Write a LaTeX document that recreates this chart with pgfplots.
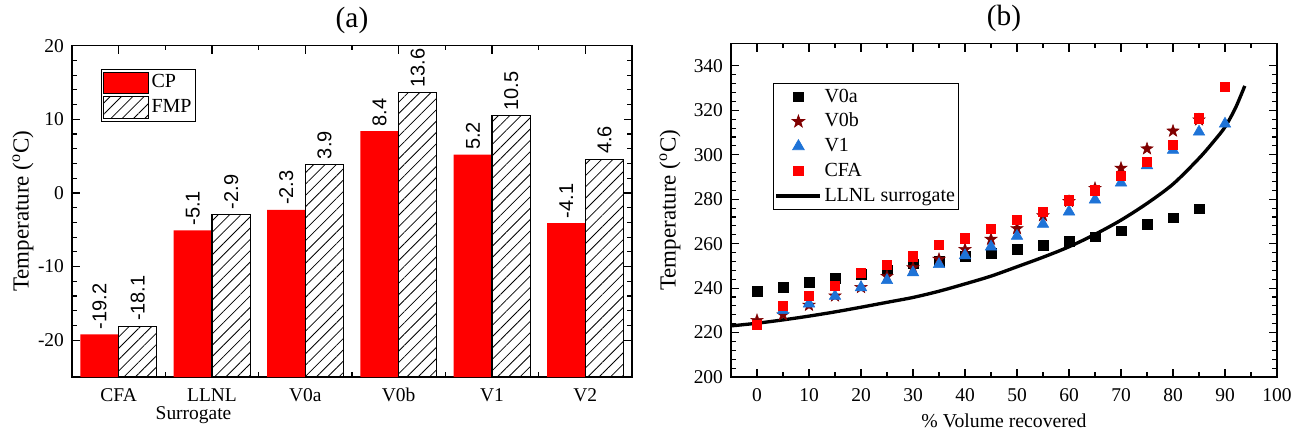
\documentclass[border=0pt]{standalone}
\usepackage{fontspec}
\setmainfont{Liberation Serif}
\newfontfamily\arial{Liberation Sans}
\usepackage{pgfplots}
\pgfplotsset{compat=1.18}
\usetikzlibrary{patterns.meta}
\definecolor{darkred}{RGB}{128,0,0}
\definecolor{myblue}{RGB}{30,115,215}
\pgfdeclareplotmark{fstar}{%
  \pgfpathmoveto{\pgfqpointpolar{90}{\pgfplotmarksize}}%
  \pgfpathlineto{\pgfqpointpolar{126}{0.4\pgfplotmarksize}}%
  \pgfpathlineto{\pgfqpointpolar{162}{\pgfplotmarksize}}%
  \pgfpathlineto{\pgfqpointpolar{198}{0.4\pgfplotmarksize}}%
  \pgfpathlineto{\pgfqpointpolar{234}{\pgfplotmarksize}}%
  \pgfpathlineto{\pgfqpointpolar{270}{0.4\pgfplotmarksize}}%
  \pgfpathlineto{\pgfqpointpolar{306}{\pgfplotmarksize}}%
  \pgfpathlineto{\pgfqpointpolar{342}{0.4\pgfplotmarksize}}%
  \pgfpathlineto{\pgfqpointpolar{18}{\pgfplotmarksize}}%
  \pgfpathlineto{\pgfqpointpolar{54}{0.4\pgfplotmarksize}}%
  \pgfpathclose
  \pgfusepathqfillstroke}
\pgfplotsset{
  common/.style={
    scale only axis,
    enlargelimits=false,
    axis line style={line width=1.1pt},
    every tick/.style={black, line width=0.9pt},
    major tick length=6pt, minor tick length=3.5pt,
    tick label style={font=\fontsize{14.6}{16}\selectfont},
    /pgf/number format/assume math mode=true,
    xticklabel style={yshift=-5pt},
    yticklabel style={xshift=-2.5pt},
    title style={font=\fontsize{22}{24}\selectfont, inner sep=0pt, yshift=2.5pt},
  },
  barlgd/.style={legend image code/.code={\draw[##1] (0pt,-8.2pt) rectangle (33.75pt,8.2pt);}},
  mklgd/.style={legend image code/.code={\draw[mark repeat=2,mark phase=2,##1] plot coordinates {(0pt,0pt) (16.5pt,0pt) (33pt,0pt)};}},
  linelgd/.style={legend image code/.code={\draw[##1] (0pt,0pt) -- (33pt,0pt);}},
  valnode/.style={every node near coord/.style={xshift=#1, rotate=90, anchor=west,
     font=\arial\fontsize{15}{17}\selectfont, inner xsep=3.5pt, inner ysep=0pt, black}},
}
\begin{document}
\begin{tikzpicture}
\begin{axis}[
  common,
  at={(0pt,0pt)}, anchor=south west,
  width=420pt, height=248.5pt,
  xmin=-0.5, xmax=5.5, ymin=-25, ymax=20,
  y coord trafo/.code={\pgfmathparse{#1+25}},
  y coord inv trafo/.code={\pgfmathparse{#1-25}},
  ytick={-20,-10,0,10,20}, yticklabels={-20,-10,0,10,20},
  minor y tick num=4,
  xtick={0,1,2,3,4,5}, xticklabels={CFA,LLNL,V0a,V0b,V1,V2},
  minor xtick={0.5,1.5,2.5,3.5,4.5},
  xtick pos=upper, xticklabel pos=lower,
  extra x ticks={0.5,1.5,2.5,3.5,4.5}, extra x tick labels={},
  extra x tick style={xtick pos=both, major tick length=3.5pt},
  title={(a)},
  ylabel={Temperature (\textsuperscript{o}C)},
  every axis y label/.style={at={(axis description cs:-0.0875,0.5)}, rotate=90, anchor=center, font=\fontsize{17.25}{20}\selectfont},
  xlabel={Surrogate},
  every axis x label/.style={at={(axis description cs:0.293,-0.127)}, anchor=base east, font=\fontsize{14.6}{16}\selectfont},
  legend style={at={(0.052,0.93)}, anchor=north west, draw=black, line width=0.6pt,
    font=\fontsize{15}{18}\selectfont, inner sep=1pt, row sep=0pt,
    nodes={inner sep=2pt, text height=11pt, text depth=3.5pt}},
  legend cell align=left,
  nodes near coords={\pgfplotspointmeta},
  point meta=explicit symbolic,
]
\addplot[ybar, bar width=0.41, bar shift=-0.205, fill=red, draw=none, barlgd, valnode=-14.35pt]
  coordinates {(0,-19.2)[-19.2] (1,-5.1)[-5.1] (2,-2.3)[-2.3] (3,8.4)[8.4] (4,5.2)[5.2] (5,-4.1)[-4.1]};
\addlegendentry{CP}
\addplot[ybar, bar width=0.41, bar shift=0.205, fill=white, draw=black, line width=0.8pt,
  postaction={pattern={Lines[angle=45,distance=6pt,line width=0.6pt]}}, barlgd, valnode=14.35pt]
  coordinates {(0,-18.1)[-18.1] (1,-2.9)[-2.9] (2,3.9)[3.9] (3,13.6)[13.6] (4,10.5)[10.5] (5,4.6)[4.6]};
\addlegendentry{FMP}
\end{axis}

\begin{axis}[
  common,
  at={(494.25pt,0pt)}, anchor=south west,
  width=409.5pt, height=250pt,
  xmin=-5, xmax=100, ymin=200, ymax=350,
  xtick={0,10,...,100}, ytick={200,220,...,340},
  minor x tick num=1, minor y tick num=4,
  title={(b)},
  xlabel={\% Volume recovered},
  ylabel={Temperature (\textsuperscript{o}C)},
  every axis y label/.style={at={(axis description cs:-0.1117,0.5)}, rotate=90, anchor=center, font=\fontsize{17.25}{20}\selectfont},
  every axis x label/.style={at={(axis description cs:0.5,-0.132)}, anchor=center, font=\fontsize{14.8}{17}\selectfont},
  legend style={at={(0.077,0.883)}, anchor=north west, draw=black, line width=0.6pt,
    font=\fontsize{15}{18}\selectfont, inner sep=1pt, row sep=0pt,
    nodes={inner sep=1.8pt, text height=11.5pt, text depth=3.5pt}},
  legend cell align=left,
]
\addplot[forget plot, black, line width=2.5pt, smooth] coordinates {
(-5,223.0) (0,224.2) (5,225.7) (10,227.4) (15,229.3) (20,231.4) (25,233.6) (30,235.8)
(35,238.6) (40,241.9) (45,245.4) (50,249.6) (55,253.9) (60,258.6) (65,264.2) (70,270.6)
(75,278.1) (80,286.8) (85,298.4) (88,306.5) (90,312.5) (92,321.0) (93.8,331.0)};
\addplot[only marks, mark=square*, mark size=3.6pt, black, mklgd] coordinates {
(0,238.6) (5,240.3) (10,242.7) (15,244.5) (20,246.2) (25,248.2) (30,251.0) (35,252.0)
(40,254.2) (45,255.6) (50,257.6) (55,259.3) (60,261.0) (65,263.1) (70,265.8) (75,268.7)
(80,271.7) (85,275.7)};
\addlegendentry{V0a}
\addplot[only marks, mark=fstar, mark size=4.8pt, darkred, mklgd] coordinates {
(0,225.5) (5,228.0) (10,232.3) (15,236.5) (20,240.3) (25,245.3) (30,249.2) (35,253.0)
(40,257.4) (45,262.0) (50,266.8) (55,272.6) (60,279.0) (65,284.9) (70,294.0) (75,302.7)
(80,310.7) (85,315.7)};
\addlegendentry{V0b}
\addplot[only marks, mark=triangle*, mark size=5pt, myblue, mklgd] coordinates {
(5,230.0) (10,233.0) (15,236.4) (20,240.3) (25,243.5) (30,247.0) (35,250.7)
(40,254.7) (45,258.6) (50,263.4) (55,268.8) (60,274.4) (65,279.8) (70,287.4) (75,295.2)
(80,302.1) (85,310.3) (90,313.9)};
\addlegendentry{V1}
\addplot[only marks, mark=square*, mark size=3.5pt, red, mklgd] coordinates {
(0,223.6) (5,232.0) (10,236.5) (15,241.0) (20,246.9) (25,250.4) (30,254.3) (35,259.4)
(40,262.5) (45,266.8) (50,270.9) (55,274.4) (60,279.6) (65,284.1) (70,290.6) (75,297.0)
(80,304.6) (85,316.4) (90,330.7)};
\addlegendentry{CFA}
\addlegendimage{black, line width=2.5pt, linelgd}
\addlegendentry{LLNL surrogate}
\end{axis}
\pgfresetboundingbox
\useasboundingbox (-54pt,-42pt) rectangle (915.75pt,282.75pt);
\end{tikzpicture}
\end{document}
